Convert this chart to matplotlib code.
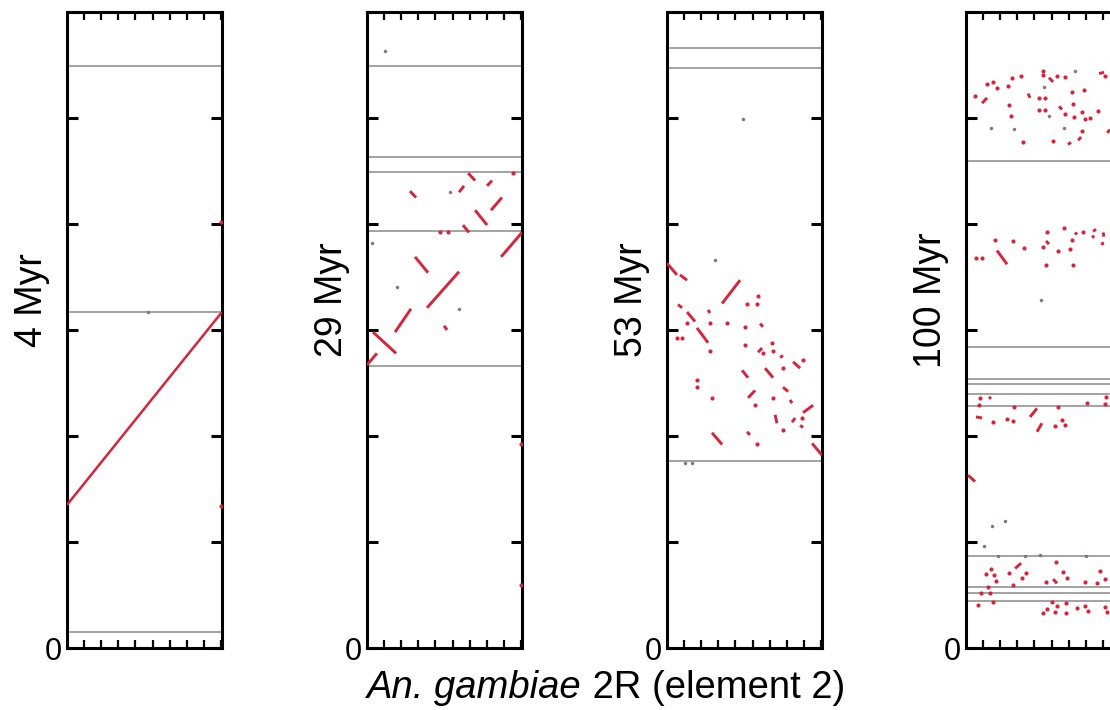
import matplotlib
matplotlib.use("Agg")
import matplotlib.pyplot as plt

plt.rcParams['font.family'] = ['Liberation Sans', 'DejaVu Sans']

RED = '#d6243a'
GRAY = '#929292'

# ---------------- data (Mb-like units, x 0..9.06, y 0..6) ----------------
panel_labels = ['4 Myr', '29 Myr', '53 Myr', '100 Myr']
x_max = 9.06
y_max = 6.0
x_tick_vals = [1, 2, 3, 4, 5, 6, 7, 8, 9]
y_tick_vals = [0, 1, 2, 3, 4, 5, 6]
y_tick_text = ['0', '', '', '', '', '', '']
xlabel_italic = 'An. gambiae'
xlabel_rest = ' 2R (element 2)'

# gray scaffold boundaries (y)
p1_gray = [5.49, 3.17, 0.15]
p2_gray = [5.49, 4.63, 4.49, 3.93, 2.66]
p3_gray = [5.66, 5.47, 1.76]
p4_gray = [4.59, 2.84, 2.54, 2.49, 2.40, 2.28, 0.87, 0.58, 0.52, 0.44]

# red alignment segments: (x0, y0, x1, y1)
p1_segs = [(0.0, 1.35, 9.06, 3.17)]
p1_red_dots = [(9.0, 4.02), (9.0, 1.34)]
p1_gray_dots = [(4.74, 3.17)]

p2_segs = [
    (5.91, 4.48, 6.32, 4.41), (7.02, 4.36, 7.31, 4.41), (5.38, 4.30, 5.67, 4.36),
    (2.51, 4.31, 2.87, 4.25), (7.25, 4.13, 7.89, 4.25), (6.32, 4.13, 7.02, 3.99),
    (5.61, 3.99, 5.96, 3.92), (7.84, 3.69, 9.06, 3.92), (2.81, 3.69, 3.57, 3.54),
    (3.51, 3.21, 5.38, 3.55), (1.64, 2.98, 2.57, 3.20), (4.50, 3.04, 4.68, 3.00),
    (0.35, 2.98, 1.70, 2.78), (0.0, 2.67, 0.58, 2.78),
]
p2_red_dots = [(8.54, 4.48), (4.27, 3.92), (4.74, 3.92), (9.0, 1.92), (9.0, 0.59)]
p2_gray_dots = [(1.05, 5.63), (4.85, 4.30), (0.29, 3.82), (1.75, 3.41), (5.38, 3.20)]

p3_segs = [
    (0.0, 3.63, 0.58, 3.52), (0.76, 3.52, 1.17, 3.47), (3.22, 3.25, 4.27, 3.47),
    (0.64, 3.24, 0.88, 3.21), (1.17, 3.17, 1.64, 3.08), (2.40, 3.19, 2.51, 3.16),
    (1.75, 3.02, 2.40, 2.88), (5.44, 3.06, 5.61, 3.03), (5.32, 2.79, 5.56, 2.83),
    (6.61, 2.74, 6.78, 2.76), (7.37, 2.70, 7.78, 2.64), (5.73, 2.64, 6.20, 2.55),
    (4.39, 2.62, 4.74, 2.55), (4.74, 2.36, 5.15, 2.43), (6.78, 2.46, 7.08, 2.42),
    (7.19, 2.34, 7.31, 2.31), (7.95, 2.22, 8.54, 2.29), (6.32, 2.20, 6.43, 2.12),
    (7.31, 2.13, 7.49, 2.17), (7.78, 2.10, 7.95, 2.08), (2.63, 2.03, 3.22, 1.92),
    (4.68, 2.04, 4.85, 2.01), (8.48, 1.93, 9.06, 1.82),
]
p3_red_dots = [
    (4.68, 3.25), (5.26, 3.25), (5.32, 3.32), (2.51, 3.07), (3.51, 3.07), (1.17, 3.07),
    (0.58, 2.92), (0.88, 2.92), (4.56, 3.03), (2.51, 2.80), (4.56, 2.86), (5.61, 2.78),
    (6.14, 2.88), (6.20, 2.80), (7.95, 2.72), (6.78, 2.64), (1.75, 2.53), (1.75, 2.46),
    (5.15, 2.29), (2.63, 2.36), (6.20, 2.36), (6.78, 2.06), (7.89, 2.17), (5.26, 1.92),
]
p3_gray_dots = [(4.44, 4.99), (2.81, 3.66), (1.05, 1.75), (1.46, 1.75)]

p4_segs = [
    (0.94, 5.14, 1.23, 5.19), (3.63, 5.23, 3.74, 5.19), (4.85, 5.38, 5.09, 5.34),
    (5.44, 5.11, 5.61, 5.08), (5.96, 4.75, 6.14, 4.77), (6.55, 4.79, 6.73, 4.82),
    (7.78, 5.42, 8.07, 5.43), (8.25, 4.86, 8.42, 4.89),
    (1.81, 3.75, 2.40, 3.62), (4.68, 3.84, 4.85, 3.81), (6.37, 3.92, 6.49, 3.90),
    (7.37, 3.87, 7.49, 3.89), (7.43, 3.93, 7.60, 3.95), (8.01, 3.92, 8.07, 3.88),
    (7.95, 3.80, 8.01, 3.83),
    (0.12, 1.63, 0.53, 1.57),
    (1.35, 2.35, 1.46, 2.37), (0.58, 2.18, 0.94, 2.17), (3.74, 2.18, 4.15, 2.26),
    (4.15, 2.04, 4.44, 2.12),
    (2.87, 0.75, 3.22, 0.80), (5.09, 0.65, 5.32, 0.61),
]
p4_red_dots = [
    # cluster 1
    (0.53, 5.21), (1.23, 5.32), (1.58, 5.34), (1.81, 5.28), (2.46, 5.30), (2.69, 5.38),
    (3.22, 5.40), (2.51, 5.12), (2.63, 5.02), (3.33, 4.77), (4.27, 5.19), (4.62, 5.19),
    (4.50, 5.44), (4.50, 5.41), (4.27, 5.08), (4.62, 5.08), (5.32, 5.40), (5.79, 5.39),
    (6.20, 5.25), (6.26, 5.13), (6.90, 5.26), (5.79, 5.04), (6.32, 5.01), (5.09, 4.78),
    (6.78, 4.88), (6.78, 5.06), (6.96, 4.99), (7.25, 5.00), (7.72, 5.07), (8.13, 5.40),
    # cluster 2
    (0.58, 3.68), (0.94, 3.68), (1.70, 3.85), (2.75, 3.84), (3.39, 3.77), (4.50, 3.78),
    (4.74, 3.92), (5.73, 3.96), (5.38, 3.75), (4.68, 3.61), (6.08, 3.76), (6.26, 3.61),
    (6.20, 3.85), (6.84, 3.92),
    # cluster 3
    (0.82, 2.36), (0.76, 2.29), (1.58, 2.13), (2.40, 2.16), (2.75, 2.14), (2.81, 2.27),
    (5.20, 2.09), (5.38, 2.27), (5.79, 2.10), (5.61, 2.15), (7.08, 2.31), (8.19, 2.37),
    (8.13, 2.30),
    # cluster 4
    (1.17, 0.70), (1.46, 0.75), (1.64, 0.69), (1.75, 0.63), (1.29, 0.58), (0.88, 0.52),
    (1.40, 0.52), (0.70, 0.41), (1.58, 0.43), (2.51, 0.71), (3.51, 0.71), (3.27, 0.66),
    (2.75, 0.59), (4.68, 0.62), (5.26, 0.81), (5.67, 0.72), (5.91, 0.66), (5.03, 0.43),
    (5.32, 0.40), (5.85, 0.42), (4.50, 0.33), (4.74, 0.37), (5.20, 0.34), (5.85, 0.33),
    (6.49, 0.38), (6.96, 0.40), (7.13, 0.35), (6.96, 0.62), (7.66, 0.61), (7.84, 0.73),
    (8.13, 0.65), (8.13, 0.39), (8.25, 0.34),
]
p4_gray_dots = [
    (1.46, 4.91), (2.81, 4.90), (4.56, 5.29), (4.85, 5.02), (6.37, 5.44), (5.73, 4.91),
    (4.39, 3.28), (1.52, 1.15), (2.28, 1.20), (1.05, 0.96),
    (1.87, 0.87), (3.45, 0.87), (4.33, 0.88), (7.02, 0.87),
]

panels = [
    (p1_gray, p1_segs, p1_red_dots, p1_gray_dots),
    (p2_gray, p2_segs, p2_red_dots, p2_gray_dots),
    (p3_gray, p3_segs, p3_red_dots, p3_gray_dots),
    (p4_gray, p4_segs, p4_red_dots, p4_gray_dots),
]

# ---------------- layout ----------------
W, H = 1110, 710
fig = plt.figure(figsize=(W / 100, H / 100), dpi=100)
fig.patch.set_facecolor('white')

lefts_px = [67, 367, 667, 966]
ax_w_px = 155
bottom_px = 648
top_px = 12

for i, (gray, segs, rdots, gdots) in enumerate(panels):
    ax = fig.add_axes([lefts_px[i] / W, (H - bottom_px) / H,
                       ax_w_px / W, (bottom_px - top_px) / H])
    ax.set_xlim(0, x_max)
    ax.set_ylim(0, y_max)
    for gy in gray:
        ax.axhline(gy, color=GRAY, lw=1.2, zorder=1)
    lw = 1.8 if i == 0 else 2.1
    for (x0, y0, x1, y1) in segs:
        ax.plot([x0, x1], [y0, y1], color=RED, lw=lw, solid_capstyle='butt', zorder=3)
    if rdots:
        ax.plot([p[0] for p in rdots], [p[1] for p in rdots], 'o', color=RED,
                ms=3.0, mew=0, zorder=3)
    if gdots:
        ax.plot([p[0] for p in gdots], [p[1] for p in gdots], 'o', color='#857479',
                ms=2.5, mew=0, zorder=3)

    for sp in ax.spines.values():
        sp.set_linewidth(2.2)
        sp.set_color('black')
    ax.set_xticks(x_tick_vals)
    ax.set_xticklabels([])
    ax.tick_params(axis='x', which='both', direction='in', top=True, bottom=True,
                   length=6, width=1.6, color='black')
    ax.set_yticks(y_tick_vals)
    ax.set_yticklabels(y_tick_text)
    ax.tick_params(axis='y', which='both', direction='in', left=True, right=True,
                   length=8, width=2.2, color='black', labelsize=22, pad=4)
    ax.text(-0.225, 0.547, panel_labels[i], transform=ax.transAxes, rotation=90,
            ha='center', va='center', fontsize=27)

# x label with italic species name
cx, cy = 606, 688
t1 = fig.text(0, 1 - cy / H, xlabel_italic, style='italic', fontsize=27.5,
              ha='left', va='center')
t2 = fig.text(0, 1 - cy / H, xlabel_rest, fontsize=27.5, ha='left', va='center')
fig.canvas.draw()
r = fig.canvas.get_renderer()
w1 = t1.get_window_extent(r).width
w2 = t2.get_window_extent(r).width
start = cx - (w1 + w2) / 2
t1.set_x(start / W)
t2.set_x((start + w1) / W)

fig.savefig('out.png', dpi=100, facecolor='white')
